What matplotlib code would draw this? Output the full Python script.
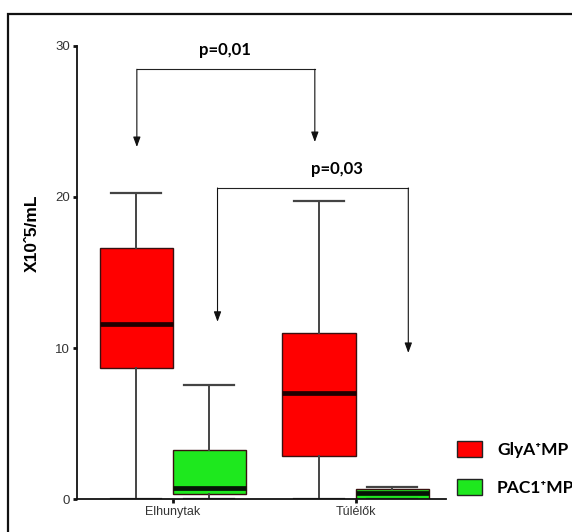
import matplotlib
matplotlib.use("Agg")
import matplotlib.pyplot as plt
from matplotlib.patches import Patch, Rectangle

# Csoportok és a két marker dobozábra-statisztikái (X10^5/mL)
csoportok = ["Elhunytak", "Túlélők"]
glya_min = [0.0, 0.0]
glya_q1 = [8.66, 2.86]
glya_med = [11.59, 7.0]
glya_q3 = [16.64, 10.98]
glya_max = [20.24, 19.75]

pac1_min = [0.0, 0.0]
pac1_q1 = [0.35, 0.0]
pac1_med = [0.75, 0.42]
pac1_q3 = [3.26, 0.66]
pac1_max = [7.54, 0.79]

p_ertekek = ["p=0,01", "p=0,03"]

piros = "#ff0000"
zold = "#1ee81e"


def statok(mn, q1, med, q3, mx):
    return [dict(whislo=a, q1=b, med=c, q3=d, whishi=e, fliers=[])
            for a, b, c, d, e in zip(mn, q1, med, q3, mx)]


fig = plt.figure(figsize=(5.72, 5.32), dpi=100)
ax = fig.add_axes([0.135, 0.0615, 0.645, 0.8526])

poz = [1, 2]
eltolas = 0.2
szel = 0.4


def rajzol(stats, pozok, szin, medszin):
    ax.bxp(stats, positions=pozok, widths=szel, capwidths=0.275,
           patch_artist=True, manage_ticks=False, showfliers=False,
           boxprops=dict(facecolor=szin, edgecolor="#3a1010", linewidth=1.0),
           medianprops=dict(color=medszin, linewidth=3.4, solid_capstyle="butt"),
           whiskerprops=dict(color="#444444", linewidth=1.4),
           capprops=dict(color="#444444", linewidth=1.6))


rajzol(statok(glya_min, glya_q1, glya_med, glya_q3, glya_max),
       [p - eltolas for p in poz], piros, "#200000")
rajzol(statok(pac1_min, pac1_q1, pac1_med, pac1_q3, pac1_max),
       [p + eltolas for p in poz], zold, "#051405")

ax.set_xlim(0.478, 2.495)
ax.set_ylim(0, 30)
ax.set_yticks([0, 10, 20, 30])
ax.set_xticks(poz)
ax.set_xticklabels(csoportok, fontsize=9, color="#333333", family="Liberation Sans")
for t in ax.get_yticklabels():
    t.set_fontsize(9.5)
    t.set_color("#333333")
    t.set_family("Liberation Sans")
ax.tick_params(axis="both", length=3, width=2, color="#111111", pad=2)
ax.spines["top"].set_visible(False)
ax.spines["right"].set_visible(False)
for s in ["left", "bottom"]:
    ax.spines[s].set_linewidth(1.3)
    ax.spines[s].set_color("#111111")


# Szignifikancia-jelölők: vízszintes vonal, két lefelé mutató nyíl
def jelolo(x0, x1, y, tip0, tip1, szoveg, tx, ty):
    ax.plot([x0, x1], [y, y], color="#222222", lw=0.8, clip_on=False)
    for x, tip in [(x0, tip0), (x1, tip1)]:
        ax.annotate("", xy=(x, tip), xytext=(x, y),
                    arrowprops=dict(arrowstyle="-|>,head_length=0.6,head_width=0.22",
                                    color="#111111", lw=0.8, shrinkA=0, shrinkB=0))
    ax.text(tx, ty, szoveg, ha="center", va="center", fontsize=12,
            fontweight="bold", family="Lato", clip_on=False)


jelolo(0.804, 1.777, 28.44, 23.3, 23.63, p_ertekek[0], 1.283, 29.7)
jelolo(1.245, 2.288, 20.59, 11.74, 9.68, p_ertekek[1], 1.897, 21.85)

fig.text(32 / 572, 1 - 233 / 532, "X10ˆ5/mL", rotation=90, ha="center",
         va="center", fontsize=12.5, fontweight="bold", family="Liberation Sans")

kezelok = [Patch(facecolor=piros, edgecolor="#222222", linewidth=1.0),
           Patch(facecolor=zold, edgecolor="#222222", linewidth=1.0)]
fig.legend(kezelok, ["GlyA⁺MP", "PAC1⁺MP"], loc="upper left",
           bbox_to_anchor=(457 / 572, 1 - 441 / 532), bbox_transform=fig.transFigure,
           frameon=False, borderpad=0, borderaxespad=0, handlelength=1.45,
           handleheight=1.0, handletextpad=0.85, labelspacing=1.25,
           prop=dict(family=["Lato", "DejaVu Sans"], weight="bold", size=12.5))

# Külső keret
fig.patches.append(Rectangle((8 / 572, -0.1), 1.2, 1.1 - 14 / 532,
                             transform=fig.transFigure, fill=False,
                             edgecolor="#111111", linewidth=1.6))

fig.savefig("out.png", dpi=100)
